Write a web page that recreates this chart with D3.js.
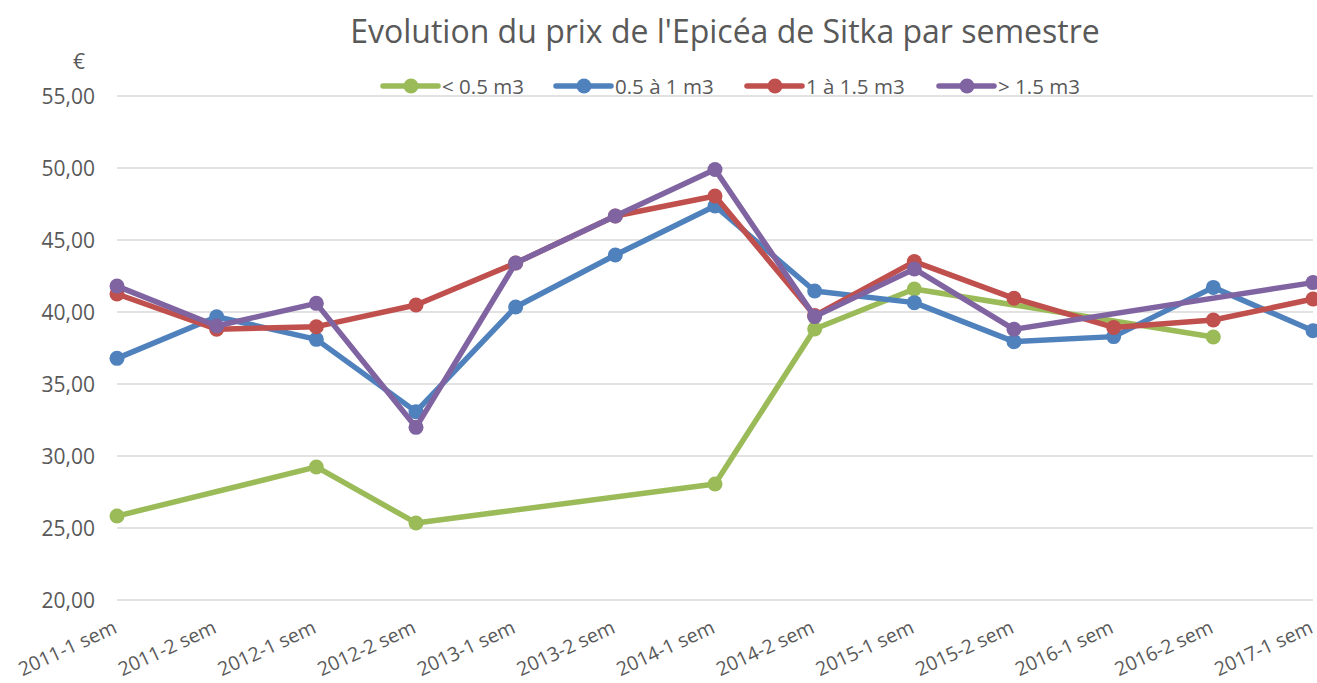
<!DOCTYPE html>
<html>
<head>
<meta charset="utf-8">
<script src="https://cdn.jsdelivr.net/npm/d3@7"></script>
<style>
    body { margin: 0; background: #fff; }
    #chart { width: 1317px; height: 683px; }
    text { font-family: "Open Sans", sans-serif; fill: #595959; }
</style>
</head>
<body>
<div id="chart"></div>
<script>
const semesters = ["2011-1 sem", "2011-2 sem", "2012-1 sem", "2012-2 sem", "2013-1 sem", "2013-2 sem",
    "2014-1 sem", "2014-2 sem", "2015-1 sem", "2015-2 sem", "2016-1 sem", "2016-2 sem", "2017-1 sem"];

// null = no price that semester (the line just jumps over it)
const small = [25.83, null, 29.24, 25.35, null, null, 28.06, 38.82, 41.60, null, null, 38.26, null];
const medium = [36.78, 39.67, 38.10, 33.08, 40.35, 43.96, 47.36, 41.46, 40.65, 37.94, 38.29, 41.71, 38.70];
const large = [41.25, 38.80, 38.98, 40.49, 43.40, 46.67, 48.06, 39.75, 43.50, 40.95, 38.93, 39.44, 40.90];
const xlarge = [41.80, 39.03, 40.60, 31.99, 43.40, 46.67, 49.90, 39.68, 42.99, 38.80, null, null, 42.04];

const seriesNames = ["< 0.5 m3", "0.5 à 1 m3", "1 à 1.5 m3", "> 1.5 m3"];
const seriesColors = ["#9BBB59", "#4F81BD", "#C0504D", "#8064A2"];
const yTicks = [20, 25, 30, 35, 40, 45, 50, 55];

const series = [small, medium, large, xlarge].map((values, i) => ({
    name: seriesNames[i],
    color: seriesColors[i],
    points: values.map((v, j) => ({ cat: semesters[j], value: v })).filter(p => p.value !== null)
}));

const width = 1317, height = 683;

const svg = d3.select("#chart").append("svg")
    .attr("width", width)
    .attr("height", height);

const x = d3.scalePoint().domain(semesters).range([117, 1313]);
const y = d3.scaleLinear().domain([20, 55]).range([600, 96]);

// Title
svg.append("text")
    .attr("x", 725)
    .attr("y", 43)
    .attr("text-anchor", "middle")
    .style("font-size", "32px")
    .text("Evolution du prix de l'Epicéa de Sitka par semestre");

// Grid lines
svg.append("g").selectAll("line")
    .data(yTicks)
    .enter().append("line")
    .attr("x1", 117)
    .attr("x2", 1313)
    .attr("y1", d => y(d))
    .attr("y2", d => y(d))
    .attr("stroke", "#d9d9d9")
    .attr("stroke-width", 1.5);

// Y axis labels
const fmt = d => d.toFixed(2).replace(".", ",");
svg.append("g").selectAll("text")
    .data(yTicks)
    .enter().append("text")
    .attr("x", 95)
    .attr("y", d => y(d) + 8)
    .attr("text-anchor", "end")
    .style("font-size", "21px")
    .text(fmt);

svg.append("text")
    .attr("x", 79)
    .attr("y", 69)
    .attr("text-anchor", "middle")
    .style("font-size", "21px")
    .text("€");

// X axis labels, tilted
svg.append("g").selectAll("text")
    .data(semesters)
    .enter().append("text")
    .attr("text-anchor", "end")
    .attr("transform", d => `translate(${x(d) + 1},${632}) rotate(-25)`)
    .style("font-size", "19.5px")
    .text(d => d);

// Lines + markers
const line = d3.line()
    .x(d => x(d.cat))
    .y(d => y(d.value));

const seriesG = svg.append("g").selectAll("g")
    .data(series)
    .enter().append("g");

seriesG.append("path")
    .attr("d", d => line(d.points))
    .attr("fill", "none")
    .attr("stroke", d => d.color)
    .attr("stroke-width", 5.5)
    .attr("stroke-linejoin", "round")
    .attr("stroke-linecap", "round");

seriesG.selectAll("circle")
    .data(d => d.points.map(p => ({ ...p, color: d.color })))
    .enter().append("circle")
    .attr("cx", d => x(d.cat))
    .attr("cy", d => y(d.value))
    .attr("r", 7.5)
    .attr("fill", d => d.color);

// Legend
const legendX = [383, 556, 747, 939];
const legend = svg.append("g").selectAll("g")
    .data(series)
    .enter().append("g")
    .attr("transform", (d, i) => `translate(${legendX[i]},86)`);

legend.append("line")
    .attr("x1", 0)
    .attr("x2", 55)
    .attr("stroke", d => d.color)
    .attr("stroke-width", 5.5)
    .attr("stroke-linecap", "round");

legend.append("circle")
    .attr("cx", 28)
    .attr("r", 7.5)
    .attr("fill", d => d.color);

legend.append("text")
    .attr("x", 59)
    .attr("y", 7.5)
    .style("font-size", "20.5px")
    .text(d => d.name);
</script>
</body>
</html>
